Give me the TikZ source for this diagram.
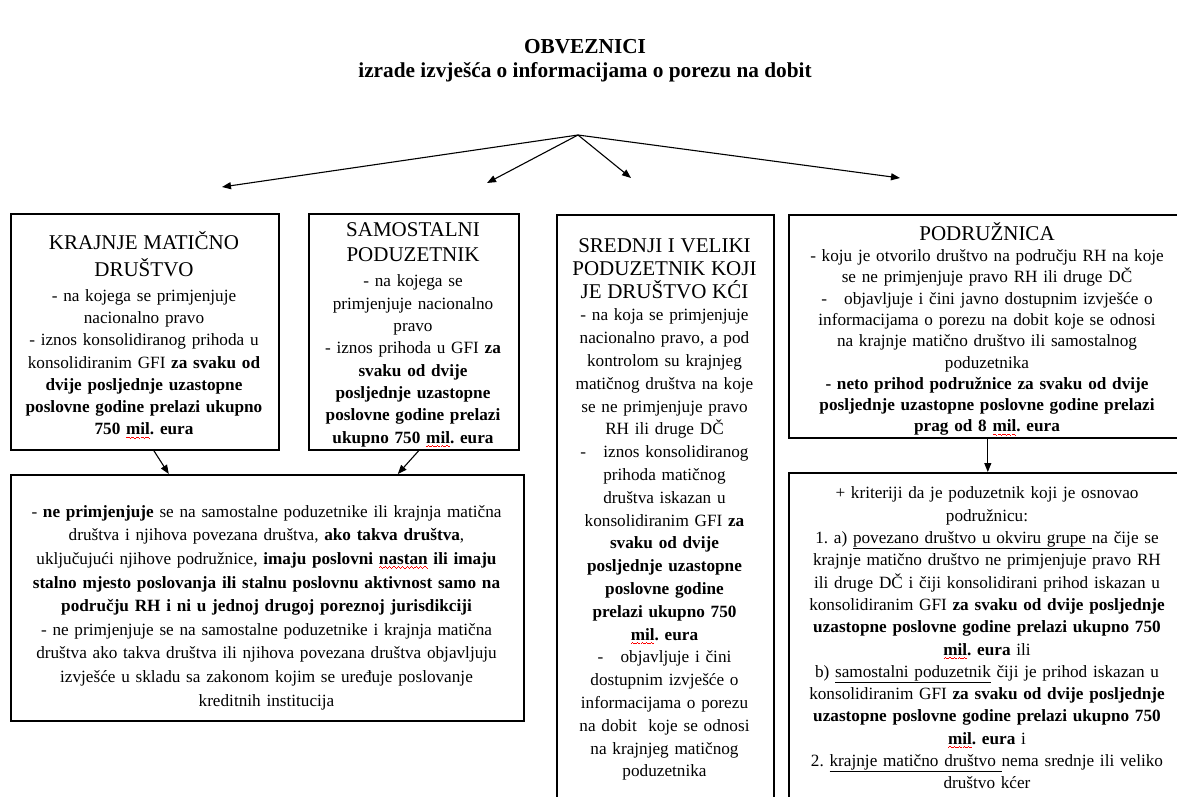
\documentclass[tikz,border=0pt]{standalone}
\usepackage{fontspec}
\setmainfont{Liberation Serif}
\usetikzlibrary{arrows.meta}
\frenchspacing
\newsavebox\wavebox
\newcommand\wavecell{\hbox{{\color{red}\rule[-3.2pt]{1.1pt}{0.7pt}\rule[-2.5pt]{1.1pt}{0.7pt}\rule[-3.2pt]{1.1pt}{0.7pt}\rule[-3.9pt]{1.1pt}{0.7pt}}}}
\newcommand\redwave[1]{\sbox\wavebox{#1}\rlap{\hbox to \wd\wavebox{\xleaders\wavecell\hfil}}\usebox\wavebox}
\newcommand\hdr{\fontsize{21}{22}\selectfont\mdseries}
\tikzset{
  box/.style={draw, line width=1.6pt, inner sep=0pt, anchor=north west},
  txt/.style={inner sep=0pt, align=center, text width=#1},
  arr/.style={line width=1.1pt, -{Triangle[length=9pt,width=7pt]}},
}
\begin{document}
\begin{tikzpicture}[x=1pt,y=-1pt]
\useasboundingbox (0,0) rectangle (1177,796);
\clip (0,0) rectangle (1177,796);

% title
\node[font=\fontsize{21.3}{24.5}\selectfont\bfseries, align=center] (title) at (585,60.5)
  {OBVEZNICI\\izrade izvješća o informacijama o porezu na dobit};

% fan-out arrows
\coordinate (src) at (578,135);
\coordinate (e1) at (222,187);
\coordinate (e2) at (487,183);
\coordinate (e3) at (631,178);
\coordinate (e4) at (900,178);
\draw[arr] (src) -- (e1);
\draw[arr] (src) -- (e2);
\draw[arr] (src) -- (e3);
\draw[arr] (src) -- (e4);

% boxes
\node[box, minimum width=268pt, minimum height=236pt] (b1) at (10,213) {};
\node[box, minimum width=210pt, minimum height=236pt] (b2) at (308,213) {};
\node[box, minimum width=217pt, minimum height=592pt] (b3) at (556,214) {};
\node[box, minimum width=398pt, minimum height=223pt] (b4) at (788,214) {};
\node[box, minimum width=398pt, minimum height=334pt] (b5) at (788,472) {};
\node[box, minimum width=513pt, minimum height=246pt] (b6) at (10,474) {};

% texts
\node[txt=320pt, font=\fontsize{17.2}{22.3}\selectfont] (t1) at (144,335)
{{\hdr KRAJNJE MATIČNO}\\[4.7pt]{\hdr DRUŠTVO}\\[2.7pt]
- na kojega se primjenjuje\\
nacionalno pravo\\
- iznos konsolidiranog prihoda u\\
konsolidiranim GFI \textbf{za svaku od}\\
\textbf{dvije posljednje uzastopne}\\
\textbf{poslovne godine prelazi ukupno}\\
\textbf{750 \redwave{mil}. eura}};

\node[txt=300pt, font=\fontsize{17.2}{22.3}\selectfont] (t2) at (413,335)
{{\hdr SAMOSTALNI}\\[2.7pt]{\hdr PODUZETNIK}\\[2.7pt]
- na kojega se\\
primjenjuje nacionalno\\
pravo\\
- iznos prihoda u GFI \textbf{za}\\
\textbf{svaku od dvije}\\
\textbf{posljednje uzastopne}\\
\textbf{poslovne godine prelazi}\\
\textbf{ukupno 750 \redwave{mil}. eura}};

\node[txt=300pt, font=\fontsize{17.2}{22.8}\selectfont] (t3) at (664.5,509.5)
{{\hdr SREDNJI I VELIKI}\\{\hdr PODUZETNIK KOJI}\\{\hdr JE DRUŠTVO KĆI}\\
- na koja se primjenjuje\\
nacionalno pravo, a pod\\
kontrolom su krajnjeg\\
matičnog društva na koje\\
se ne primjenjuje pravo\\
RH ili druge DČ\\
-\hspace{1em}iznos konsolidiranog\\
prihoda matičnog\\
društva iskazan u\\
konsolidiranim GFI \textbf{za}\\
\textbf{svaku od dvije}\\
\textbf{posljednje uzastopne}\\
\textbf{poslovne godine}\\
\textbf{prelazi ukupno 750}\\
\textbf{\redwave{mil}. eura}\\
-\hspace{1em}objavljuje i čini\\
dostupnim izvješće o\\
informacijama o porezu\\
na dobit\ \ koje se odnosi\\
na krajnjeg matičnog\\
poduzetnika};

\node[txt=440pt, font=\fontsize{17.2}{21.3}\selectfont] (t4) at (987,329)
{{\hdr PODRUŽNICA}\\
- koju je otvorilo društvo na području RH na koje\\
se ne primjenjuje pravo RH ili druge DČ\\
-\hspace{1em}objavljuje i čini javno dostupnim izvješće o\\
informacijama o porezu na dobit koje se odnosi\\
na krajnje matično društvo ili samostalnog\\
poduzetnika\\
\textbf{- neto prihod podružnice za svaku od dvije}\\
\textbf{posljednje uzastopne poslovne godine prelazi}\\
\textbf{prag od 8 \redwave{mil}. eura}};

\node[txt=440pt, font=\fontsize{17.2}{22.3}\selectfont] (t5) at (987,638)
{+ kriteriji da je poduzetnik koji je osnovao\\
podružnicu:\\
1. a) \underline{povezano društvo u okviru grupe }na čije se\\
krajnje matično društvo ne primjenjuje pravo RH\\
ili druge DČ i čiji konsolidirani prihod iskazan u\\
konsolidiranim GFI \textbf{za svaku od dvije posljednje}\\
\textbf{uzastopne poslovne godine prelazi ukupno 750}\\
\textbf{\redwave{mil}. eura} ili\\
b) \underline{samostalni poduzetnik} čiji je prihod iskazan u\\
konsolidiranim GFI \textbf{za svaku od dvije posljednje}\\
\textbf{uzastopne poslovne godine prelazi ukupno 750}\\
\textbf{\redwave{mil}. eura} i\\
2. \underline{krajnje matično društvo }nema srednje ili veliko\\
društvo kćer};

\node[txt=560pt, font=\fontsize{17.2}{23.6}\selectfont] (t6) at (266.5,607.5)
{- \textbf{ne primjenjuje} se na samostalne poduzetnike ili krajnja matična\\
društva i njihova povezana društva, \textbf{ako takva društva},\\
uključujući njihove podružnice, \textbf{imaju poslovni \redwave{nastan} ili imaju}\\
\textbf{stalno mjesto poslovanja ili stalnu poslovnu aktivnost samo na}\\
\textbf{području RH i ni u jednoj drugoj poreznoj jurisdikciji}\\
- ne primjenjuje se na samostalne poduzetnike i krajnja matična\\
društva ako takva društva ili njihova povezana društva objavljuju\\
izvješće u skladu sa zakonom kojim se uređuje poslovanje\\
kreditnih institucija};

% connectors between boxes
\draw[arr] ([xshift=9pt]b1.south) -- ([xshift=-98.5pt]b6.north);
\draw[arr] ([xshift=5pt]b2.south) -- ([xshift=130.5pt]b6.north);
\draw[arr] (b4.south) -- (b5.north);
\end{tikzpicture}
\end{document}
